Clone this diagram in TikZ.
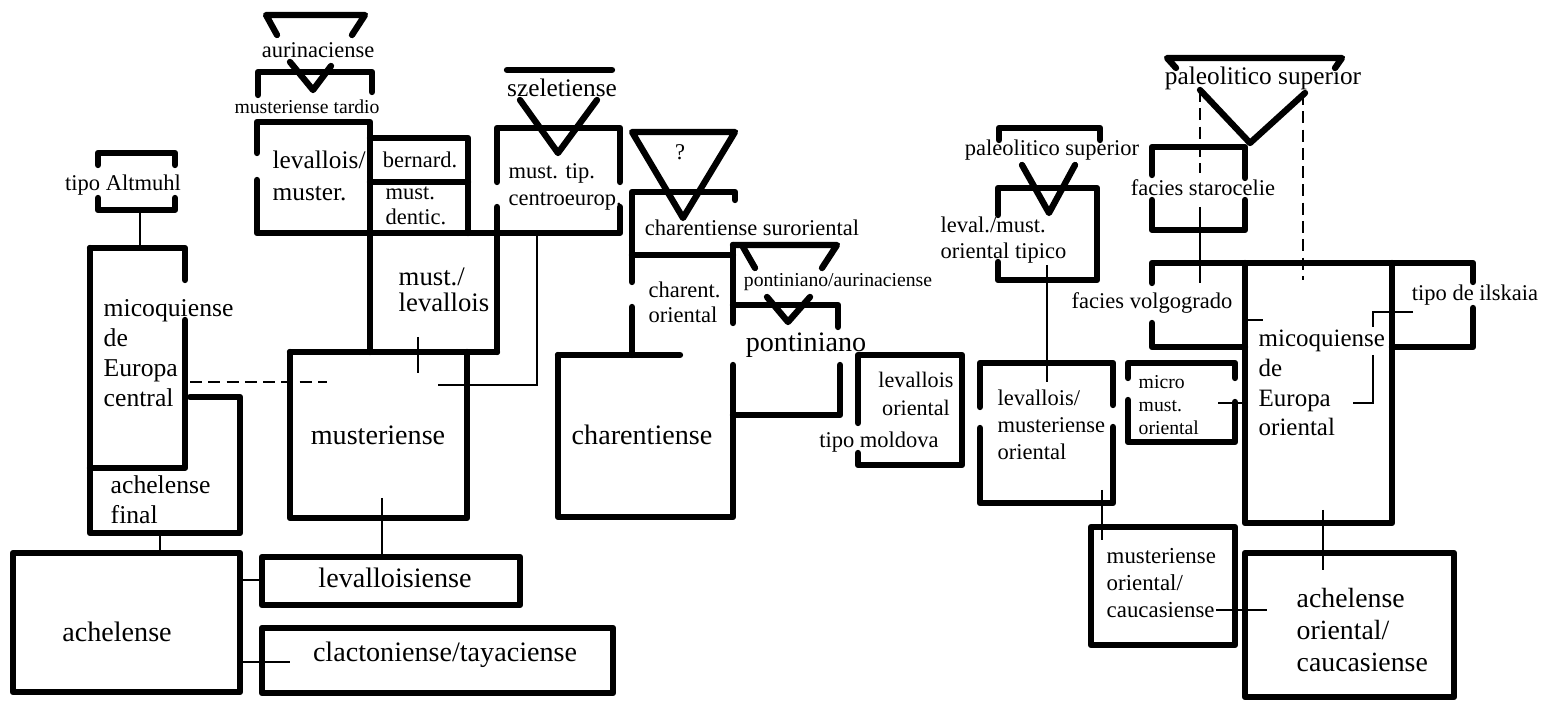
\documentclass[tikz,border=0pt]{standalone}
\usepackage{fontspec}
\setmainfont{Liberation Serif}
\tikzset{
	heavy/.style={line width=1.8pt, line cap=round, line join=round},
	light/.style={line width=0.7pt},
	dashline/.style={line width=0.7pt, dash pattern=on 3.4pt off 1.8pt},
	big/.style={inner sep=0pt, font=\fontsize{8}{9.1}\selectfont},
	mid/.style={inner sep=0pt, font=\fontsize{7.2}{8.5}\selectfont},
	small/.style={inner sep=0pt, font=\fontsize{6.4}{7.6}\selectfont},
	tiny/.style={inner sep=0pt, font=\fontsize{5.6}{6.6}\selectfont},
	lcol/.style={inner sep=0pt, anchor=west, align=left},
}
\begin{document}
\begin{tikzpicture}[x=0.01cm, y=-0.01cm]
			\useasboundingbox (0,0) rectangle (1546,701);

			\coordinate (altB) at (140,210);
			\coordinate (micT) at (140,248);
			\coordinate (finB) at (160,533);
			\coordinate (achT) at (160,553);
			\coordinate (achR1) at (240,580);
			\coordinate (levsL) at (262,580);
			\coordinate (achR2) at (240,662);
			\coordinate (clacL) at (290,662);
			\coordinate (musB) at (382,498);
			\coordinate (levsT) at (382,560);
			\coordinate (micR) at (190,382);
			\coordinate (musL) at (327,382);
			\coordinate (mlB) at (418,337);
			\coordinate (musT) at (418,373);
			\coordinate (tipB) at (537,235);
			\coordinate (tipK) at (537,385);
			\coordinate (musR) at (438,385);

			\coordinate (tipicoB) at (1047,265);
			\coordinate (lmoT) at (1047,382);
			\coordinate (lmoB) at (1102,490);
			\coordinate (mocT) at (1102,540);
			\coordinate (caucE) at (1216,610);
			\coordinate (acoL) at (1267,610);
			\coordinate (mieB) at (1323,510);
			\coordinate (acoT) at (1323,570);
			\coordinate (volR) at (1242,320);
			\coordinate (mieL1) at (1263,320);
			\coordinate (microR) at (1218,403);
			\coordinate (mieL2) at (1245,403);
			\coordinate (ilsL) at (1413,312);
			\coordinate (ilsK1) at (1373,312);
			\coordinate (ilsK2) at (1373,327);
			\coordinate (ilsK3) at (1373,355);
			\coordinate (ilsK4) at (1373,403);
			\coordinate (mieR) at (1353,403);
			\coordinate (paleoA) at (1200,90);
			\coordinate (staroT) at (1200,173);
			\coordinate (staroB) at (1200,207);
			\coordinate (volT) at (1200,283);
			\coordinate (paleoB) at (1303,93);
			\coordinate (mieT) at (1303,280);

			\draw[heavy] (277,35) -- (266,15) -- (365,15) -- (352,35);
			\draw[heavy] (290,62) -- (313,90) -- (331,66);
			\draw[heavy] (258,95) -- (258,72) -- (372,72) -- (372,92);
			\draw[heavy] (257,153) -- (257,122) -- (370,122) -- (370,352);
			\draw[heavy] (257,180) -- (257,233) -- (620,233) -- (620,207);
			\draw[heavy] (370,138) -- (468,138) -- (468,233);
			\draw[heavy] (370,182) -- (468,182);
			\draw[heavy] (497,182) -- (497,128) -- (620,128) -- (620,182);
			\draw[heavy] (497,207) -- (497,352);
			\draw[heavy] (507,70) -- (612,70);
			\draw[heavy] (520,100) -- (558,153) -- (597,100);
			\draw[heavy] (290,352) -- (497,352);
			\draw[heavy] (290,352) -- (290,518) -- (467,518) -- (467,352);

			\draw[heavy] (98,165) -- (98,153) -- (175,153) -- (175,165);
			\draw[heavy] (98,198) -- (98,210) -- (175,210) -- (175,198);
			\draw[heavy] (90,248) -- (185,248) -- (185,280);
			\draw[heavy] (185,320) -- (185,468) -- (90,468);
			\draw[heavy] (190,397) -- (240,397) -- (240,533) -- (90,533) -- (90,248);
			\draw[heavy] (13,553) rectangle (240,692);
			\draw[heavy] (262,557) rectangle (520,605);
			\draw[heavy] (262,628) rectangle (613,693);

			\draw[heavy] (632,132) -- (735,132) -- (683,218) -- cycle;
			\draw[heavy] (735,200) -- (735,192) -- (632,192) -- (632,282);
			\draw[heavy] (632,255) -- (733,255);
			\draw[heavy] (632,307) -- (632,355);
			\draw[heavy] (558,355) -- (680,355);
			\draw[heavy] (733,365) -- (733,517) -- (558,517) -- (558,355);
			\draw[heavy] (733,245) -- (733,323);
			\draw[heavy] (755,268) -- (743,247);
			\draw[heavy] (733,245) -- (837,245) -- (822,268);
			\draw[heavy] (733,305) -- (838,305) -- (838,327);
			\draw[heavy] (767,297) -- (788,322) -- (810,297);
			\draw[heavy] (733,415) -- (840,415) -- (840,365);
			\draw[heavy] (858,423) -- (858,355) -- (962,355) -- (962,465) -- (858,465) -- (858,453);

			\draw[heavy] (999,140) -- (999,128) -- (1100,128) -- (1100,140);
			\draw[heavy] (1022,165) -- (1049,213) -- (1075,165);
			\draw[heavy] (998,215) -- (998,188) -- (1097,188) -- (1097,280) -- (998,280) -- (998,262);
			\draw[heavy] (980,407) -- (980,363) -- (1113,363) -- (1113,405);
			\draw[heavy] (1113,427) -- (1113,503) -- (980,503) -- (980,428);
			\draw[heavy] (1176,68) -- (1167,58) -- (1342,58) -- (1335,68);
			\draw[heavy] (1200,90) -- (1250,143) -- (1305,93);
			\draw[heavy] (1152,175) -- (1152,147) -- (1245,147) -- (1245,178);
			\draw[heavy] (1152,200) -- (1152,230) -- (1245,230) -- (1245,200);
			\draw[heavy] (1152,283) -- (1152,263) -- (1473,263) -- (1473,282);
			\draw[heavy] (1473,308) -- (1473,347) -- (1392,347);
			\draw[heavy] (1152,323) -- (1152,347) -- (1245,347);
			\draw[heavy] (1245,263) -- (1245,523) -- (1392,523) -- (1392,263);
			\draw[heavy] (1128,378) -- (1128,363) -- (1235,363) -- (1235,378);
			\draw[heavy] (1235,402) -- (1235,442) -- (1128,442) -- (1128,400);
			\draw[heavy] (1091,527) rectangle (1235,645);
			\draw[heavy] (1245,553) rectangle (1454,697);

			\draw[light] (altB) -- (micT);
			\draw[light] (finB) -- (achT);
			\draw[light] (achR1) -- (levsL);
			\draw[light] (achR2) -- (clacL);
			\draw[light] (musB) -- (levsT);
			\draw[dashline] (micR) -- (musL);
			\draw[light] (mlB) -- (musT);
			\draw[light] (tipB) -- (tipK) -- (musR);

			\draw[light] (tipicoB) -- (lmoT);
			\draw[light] (lmoB) -- (mocT);
			\draw[light] (caucE) -- (acoL);
			\draw[light] (mieB) -- (acoT);
			\draw[light] (volR) -- (mieL1);
			\draw[light] (microR) -- (mieL2);
			\draw[light] (ilsL) -- (ilsK1) -- (ilsK2);
			\draw[light] (ilsK3) -- (ilsK4) -- (mieR);
			\draw[dashline] (paleoA) -- (staroT);
			\draw[light] (staroB) -- (volT);
			\draw[dashline] (paleoB) -- (mieT);

			\draw (318,50) node[small] (aurin) {aurinaciense};
			\draw (307,107) node[tiny] (tardio) {musteriense tardio};
			\draw (272,176) node[lcol, font=\fontsize{7.2}{9}\selectfont] (levmus) {levallois/\\muster.};
			\draw (420,160) node[small] (bern) {bernard.};
			\draw (385,206) node[lcol, font=\fontsize{6.4}{7.2}\selectfont] (dentic) {must.\\dentic.};
			\draw (508,187) node[lcol, font=\fontsize{6.4}{7.7}\selectfont] (centro) {must. tip.\\centroeurop.};
			\draw (562,88) node[mid] (szel) {szeletiense};
			\draw (398,290) node[lcol, font=\fontsize{7.6}{7.4}\selectfont] (mustlev) {must./\\levallois};
			\draw (378,435) node[big] (must) {musteriense};
			\draw (103,353) node[lcol, font=\fontsize{7.3}{8.5}\selectfont] (micoc) {micoquiense\\de\\Europa\\central};
			\draw (110,500) node[lcol, font=\fontsize{7.3}{8.5}\selectfont] (final) {achelense\\final};
			\draw (123,185) node[small] (altm) {tipo Altmuhl};
			\draw (117,632) node[big] (ach) {achelense};
			\draw (395,578) node[big] (levs) {levalloisiense};
			\draw (445,655) node[big] (clac) {clactoniense/tayaciense};

			\draw (680,152) node[small] (quest) {?};
			\draw (752,228) node[small] (suror) {charentiense suroriental};
			\draw (648,302) node[lcol, font=\fontsize{6.4}{7.1}\selectfont] (charor) {charent.\\oriental};
			\draw (838,282) node[tiny] (pontaur) {pontiniano/aurinaciense};
			\draw (806,345) node[big] (pont) {pontiniano};
			\draw (642,435) node[big] (charent) {charentiense};
			\draw (916,394) node[small, align=center, font=\fontsize{6.3}{8}\selectfont] (levor) {levallois\\oriental};
			\draw (879,442) node[small] (moldova) {tipo moldova};

			\draw (1052,150) node[small] (paleoL) {paleolitico superior};
			\draw (940,240) node[lcol, font=\fontsize{6.4}{7.2}\selectfont] (tipico) {leval./must.\\oriental tipico};
			\draw (997,425) node[lcol, font=\fontsize{6.4}{7.7}\selectfont] (lmo) {levallois/\\musteriense\\oriental};
			\draw (1138,405) node[lcol, font=\fontsize{5.6}{6.5}\selectfont] (micro) {micro\\must.\\oriental};
			\draw (1263,78) node[mid] (paleoR) {paleolitico superior};
			\draw (1203,188) node[small] (staro) {facies starocelie};
			\draw (1152,303) node[small] (volgo) {facies volgogrado};
			\draw (1475,295) node[small] (ilsk) {tipo de ilskaia};
			\draw (1258,383) node[lcol, font=\fontsize{7.1}{8.5}\selectfont] (mieo) {micoquiense\\de\\Europa\\oriental};
			\draw (1106,583) node[lcol, font=\fontsize{6.5}{7.8}\selectfont] (moc) {musteriense\\oriental/\\caucasiense};
			\draw (1296,630) node[lcol, font=\fontsize{7.9}{9.1}\selectfont] (aco) {achelense\\oriental/\\caucasiense};
\end{tikzpicture}
\end{document}
